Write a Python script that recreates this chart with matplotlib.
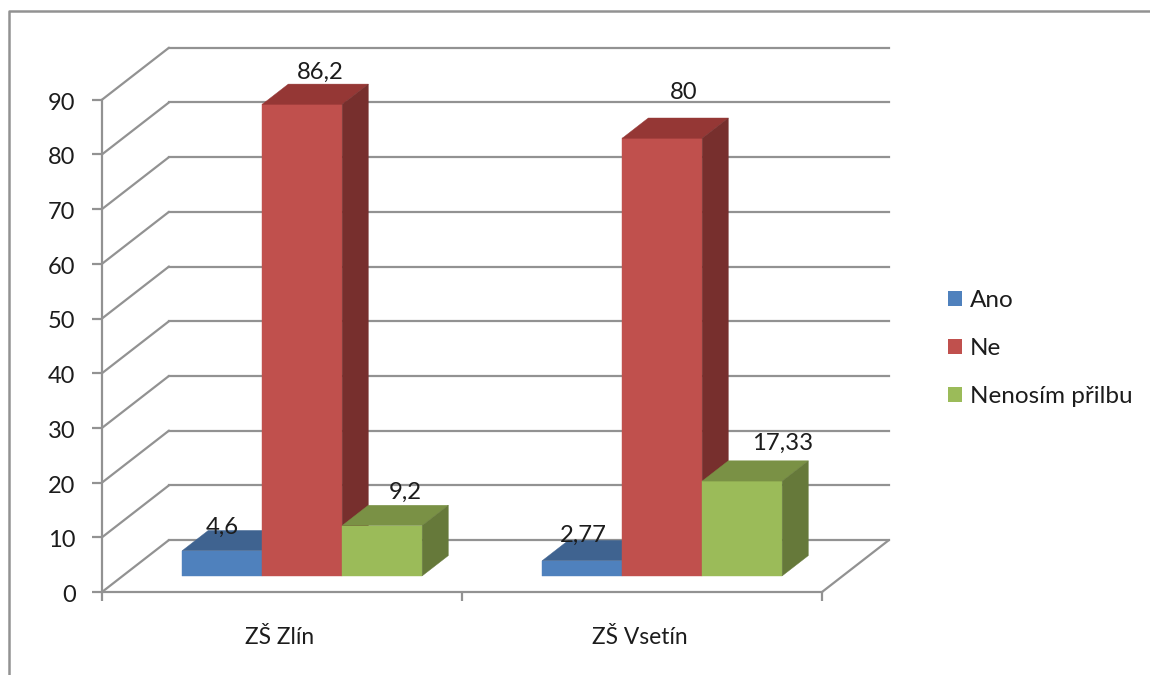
import matplotlib
matplotlib.use('Agg')
import matplotlib.pyplot as plt
from matplotlib.lines import Line2D
from matplotlib.patches import Patch
from matplotlib.transforms import ScaledTranslation

plt.rcParams['font.family'] = ['Lato', 'DejaVu Sans']

schools = ['ZŠ Zlín', 'ZŠ Vsetín']
ano = [4.6, 2.77]
ne = [86.2, 80]
nenosim = [9.2, 17.33]
y_ticks = [0, 10, 20, 30, 40, 50, 60, 70, 80, 90]
series_names = ['Ano', 'Ne', 'Nenosím přilbu']
ano_labels = ['4,6', '2,77']
ne_labels = ['86,2', '80']
nenosim_labels = ['9,2', '17,33']

W, H = 1150, 675
GRID = '#929292'
TEXT = '#1c1c1c'
# front, top, side shades for each series
COLORS = [('#4f81bd', '#3f6390', '#3a5a85'),
          ('#c0504d', '#953735', '#772f2d'),
          ('#9bbb59', '#7a9145', '#66793a')]

# oblique projection: full depth of the box in data units
PX_X = 360.0      # pixels per category
PX_Y = 5.47       # pixels per value unit
DEPTH_X = 67 / PX_X
DEPTH_Y = 52 / PX_Y
BAR_W = 1 / 4.5
BAR_NUDGE = -0.6 / PX_X
FRONT, BACK = 0.31, 0.70

# label nudges in pixels, series by series
ANO_SHIFT = [(0, 23), (1, 25)]
NE_SHIFT = [(18, 32), (22, 46)]
NENOSIM_SHIFT = [(23, 33), (40, 38)]


def proj(x, v, d):
    return x + d * DEPTH_X, v + d * DEPTH_Y


def bar3d(ax, x0, v, shades):
    x1 = x0 + BAR_W
    front = [proj(x0, 0, FRONT), proj(x1, 0, FRONT), proj(x1, v, FRONT), proj(x0, v, FRONT)]
    top = [proj(x0, v, FRONT), proj(x1, v, FRONT), proj(x1, v, BACK), proj(x0, v, BACK)]
    side = [proj(x1, 0, FRONT), proj(x1, 0, BACK), proj(x1, v, BACK), proj(x1, v, FRONT)]
    for poly, c in zip((front, top, side), shades):
        ax.fill(*zip(*poly), color=c, lw=0.3, zorder=3)


fig = plt.figure(figsize=(W / 100, H / 100), dpi=100)
ax = fig.add_axes([0, 0, 1, 1])
ax.patch.set_alpha(0)
ax.set_xlim(-102 / PX_X, (W - 102) / PX_X)
ax.set_ylim(-(H - 592) / PX_Y, 592 / PX_Y)

# walls and floor
n = len(schools)
for v in y_ticks:
    xb, yb = proj(0, v, 1)
    ax.plot([0, xb], [v, yb], color=GRID, lw=1.6, zorder=1, solid_capstyle='round')
    ax.plot([xb, proj(n, v, 1)[0]], [yb, yb], color=GRID, lw=1.6, zorder=1)
xb, yb = proj(n, 0, 1)
ax.plot([n, xb], [0, yb], color=GRID, lw=1.6, zorder=1, solid_capstyle='round')

# axes
for s in ('top', 'right'):
    ax.spines[s].set_visible(False)
for s in ('left', 'bottom'):
    ax.spines[s].set_position(('data', 0))
    ax.spines[s].set_color(GRID)
    ax.spines[s].set_linewidth(1.6)
ax.spines['left'].set_bounds(0, y_ticks[-1])
ax.spines['bottom'].set_bounds(0, n)
ax.set_yticks(y_ticks)
ax.set_xticks(range(n + 1))
ax.set_xticklabels([])
ax.set_xticks([i + 0.5 for i in range(n)], minor=True)
ax.set_xticklabels(schools, minor=True)
ax.tick_params(axis='y', length=7, width=1.6, color=GRID, pad=12, labelsize=17, labelcolor=TEXT)
ax.tick_params(axis='x', which='major', length=6.5, width=1.6, color=GRID)
ax.tick_params(axis='x', which='minor', length=0, pad=25, labelsize=16.4, labelcolor=TEXT)

# tick labels sit a little off their ticks
for lab in ax.get_yticklabels():
    lab.set_transform(lab.get_transform() + ScaledTranslation(0, -1.5 / 100, fig.dpi_scale_trans))
for lab in ax.get_xticklabels(minor=True):
    lab.set_transform(lab.get_transform() + ScaledTranslation(-2 / 100, 0, fig.dpi_scale_trans))

# bars, left to right so the later ones cover the side faces
series = [ano, ne, nenosim]
labels = [ano_labels, ne_labels, nenosim_labels]
shifts = [ANO_SHIFT, NE_SHIFT, NENOSIM_SHIFT]
for i in range(n):
    for j, vals in enumerate(series):
        x0 = i + 0.5 + (j - 1.5) * BAR_W + BAR_NUDGE
        bar3d(ax, x0, vals[i], COLORS[j])
        ax.annotate(labels[j][i], proj(x0 + BAR_W / 2, vals[i], FRONT),
                    xytext=(shifts[j][i][0] * 0.72, shifts[j][i][1] * 0.72),
                    textcoords='offset points', ha='center', va='center',
                    fontsize=17.2, color=TEXT, zorder=5)

handles = [Patch(facecolor=c[0], edgecolor='none') for c in COLORS]
ax.legend(handles, series_names, loc='upper left', bbox_to_anchor=(941 / W, 1 - 283 / H),
          frameon=False, fontsize=17.5, handlelength=0.58, handleheight=0.58,
          handletextpad=0.3, labelspacing=1.11, labelcolor=TEXT, borderpad=0.3,
          borderaxespad=0)

# outer frame, only top and left are inside the canvas
fig.add_artist(Line2D([8.5 / W, 8.5 / W, 1], [0, 1 - 11 / H, 1 - 11 / H], color=GRID, lw=1.8))

fig.savefig('out.png', dpi=100)
